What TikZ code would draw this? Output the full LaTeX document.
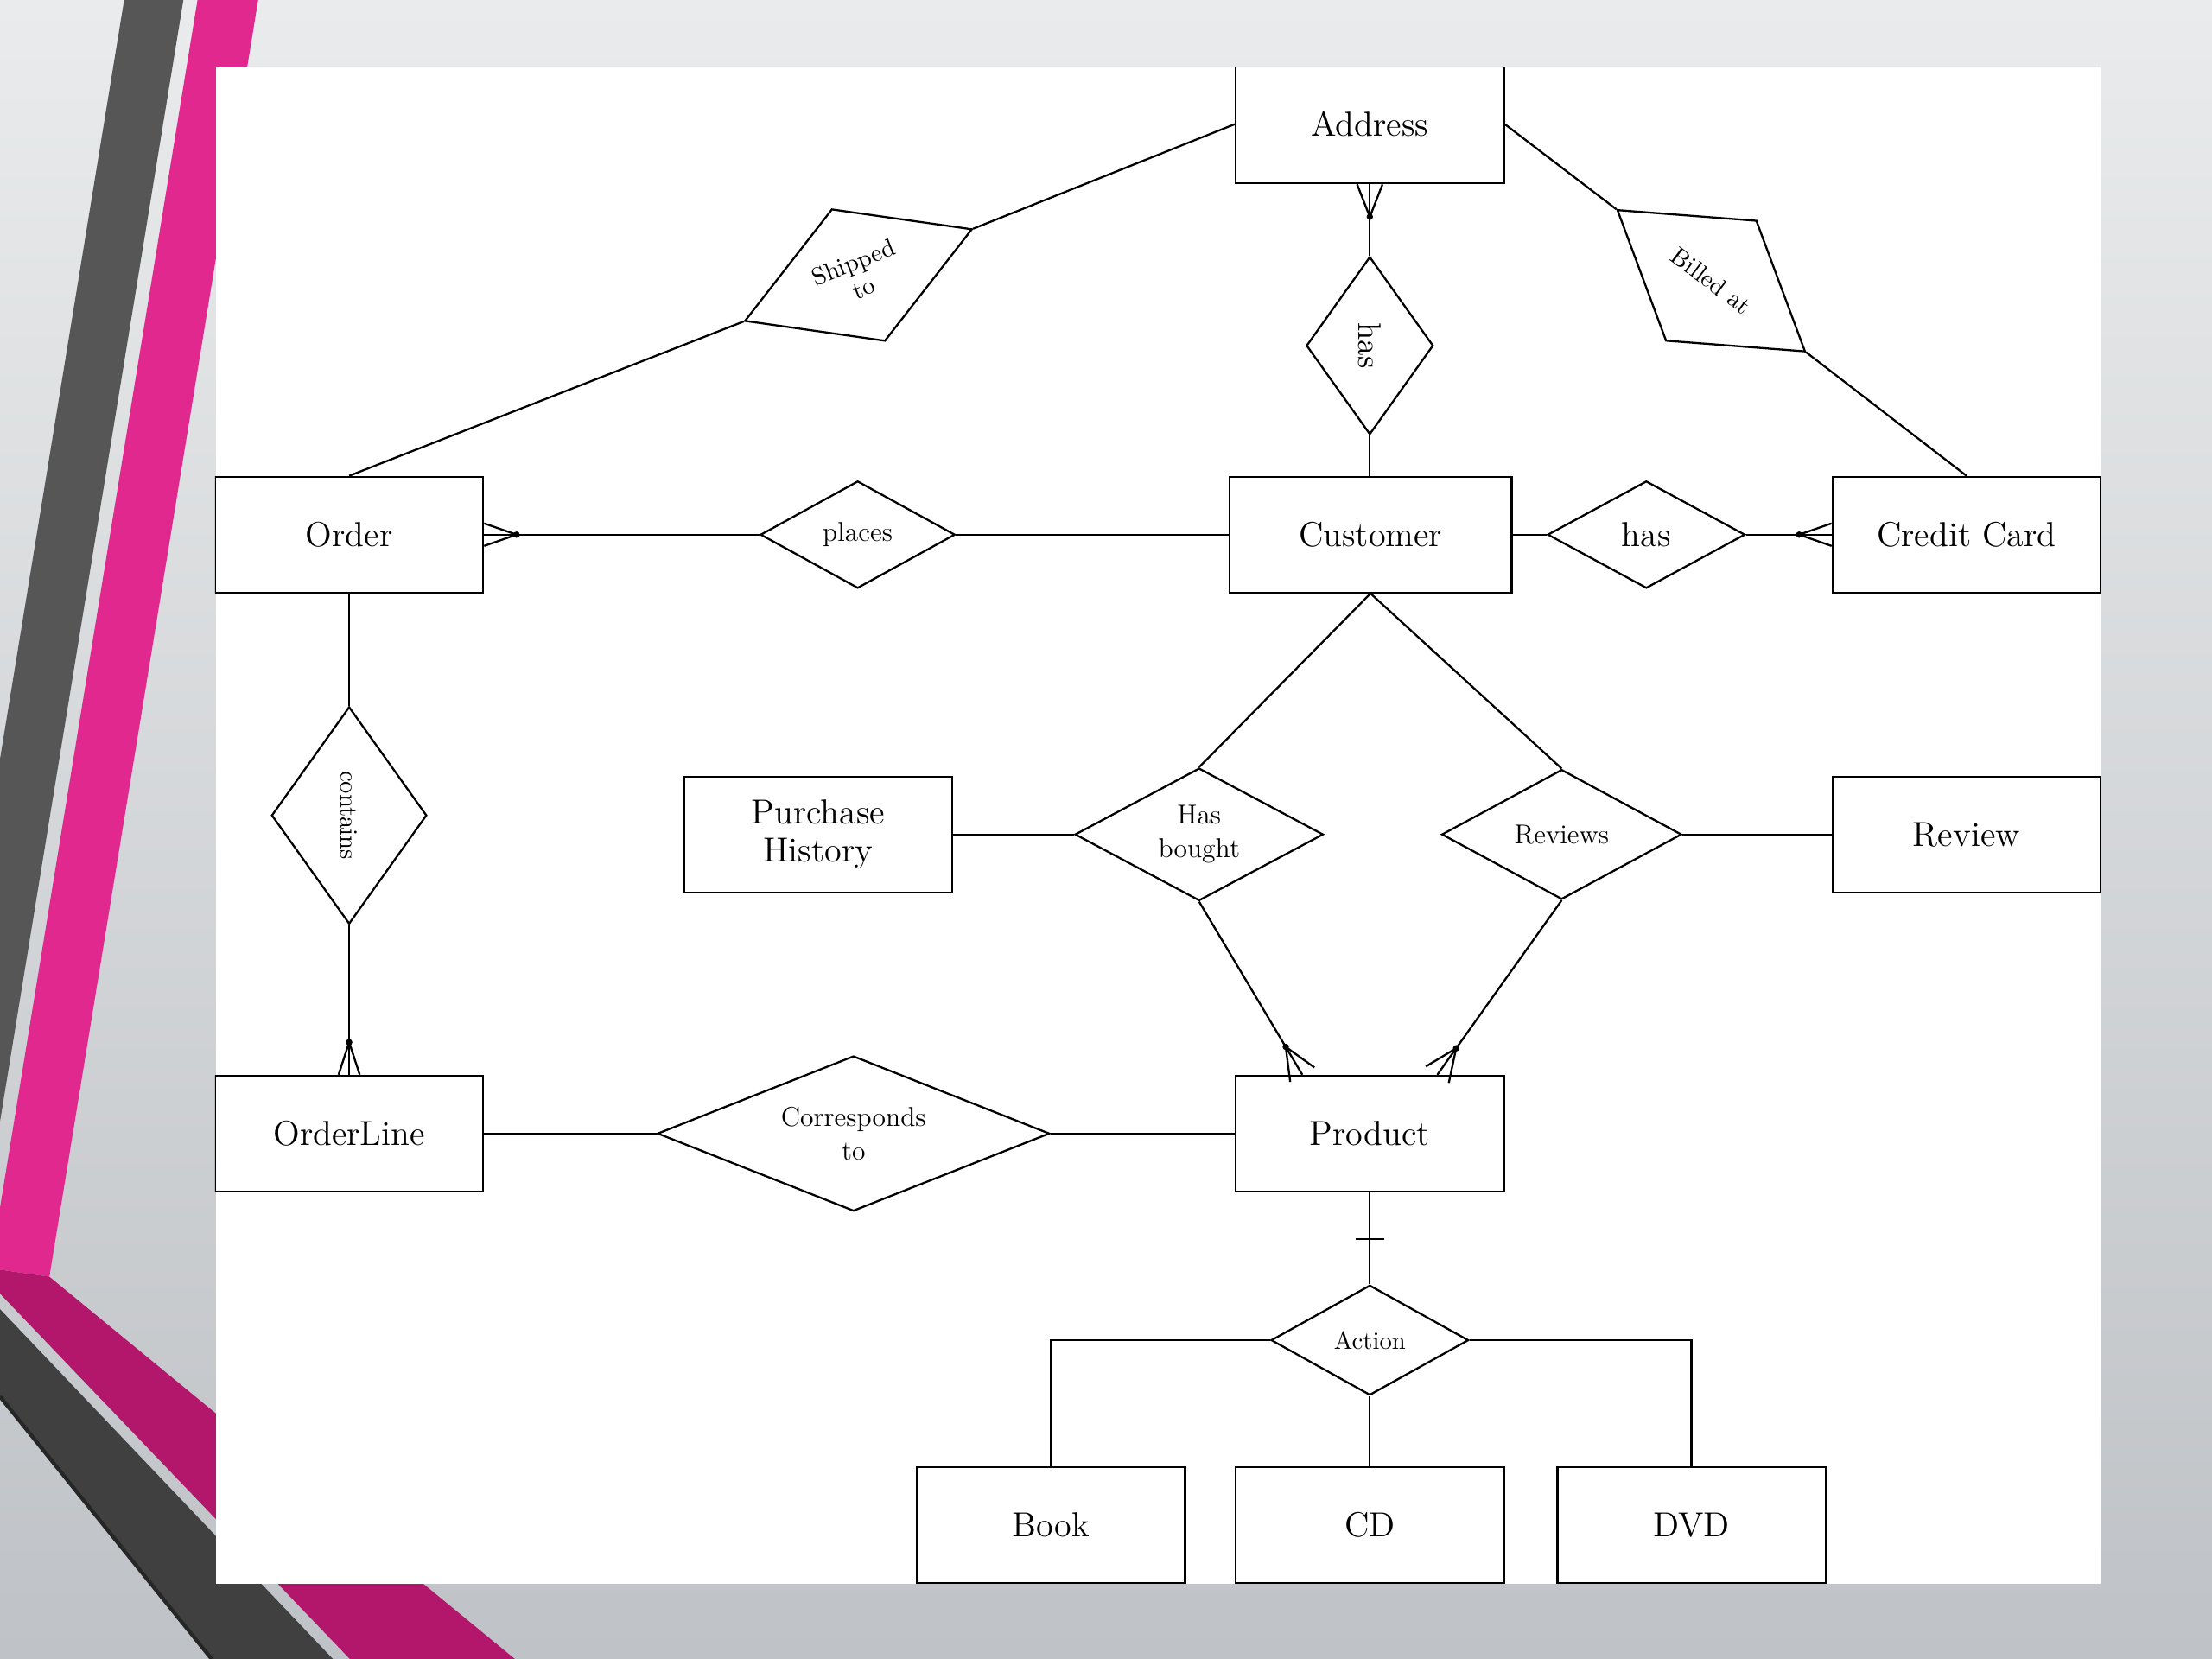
\documentclass[tikz,border=0pt]{standalone}
\usepackage{tikz}
\usetikzlibrary{shapes,shapes.geometric}
\usetikzlibrary{calc}
\usetikzlibrary{positioning}

\definecolor{slidetop}{HTML}{E9EBEC}
\definecolor{slidebot}{HTML}{BFC2C6}
\definecolor{stripegrey}{HTML}{565656}
\definecolor{stripepink}{HTML}{E1288E}
\definecolor{stripemag}{HTML}{B3176C}
\definecolor{banddark}{HTML}{404040}

\newcommand{\crowsfoot}[3]{%
\draw (#1) -- (#2);
\fill ($(#2)!0.46cm!(#1)$) circle (1.3pt);
\draw ($(#2)!0.46cm!(#1)$) -- ($(#2)!#3!90:(#1)$);
\draw ($(#2)!0.46cm!(#1)$) -- ($(#2)!#3!-90:(#1)$);}

\begin{document}
\begin{tikzpicture}[x=0.02cm,y=-0.02cm,thick]
\tikzset{entity/.style={rectangle,draw,minimum width=3.8cm,minimum height=1.64cm,align=center,font=\fontsize{14}{15.5}\selectfont},
relation/.style={diamond,draw,inner sep=0pt,aspect=2,align=center,font=\fontsize{11}{13.5}\selectfont}}
\useasboundingbox (0,0) rectangle (1568,1176);
\shade[top color=slidetop,bottom color=slidebot] (0,0) rectangle (1568,1176);
\fill[stripegrey] (88,0) -- (130,0) -- (0,795) -- (0,538) -- cycle;
\fill[stripepink] (140,0) -- (183,0) -- (35,905) -- (0,900) -- (0,856) -- cycle;
\fill[stripemag] (0,900) -- (35,905) -- (365,1176) -- (248,1176) -- (0,917) -- cycle;
\fill[banddark] (0,928) -- (236,1176) -- (150,1176) -- (0,990) -- cycle;
\draw[line width=1.5pt,black!85] (0,990) -- (150,1176);
\fill[white] (153,47) rectangle (1489,1123);
\begin{scope}
\clip (152.5,47.5) rectangle (1489.5,1123);
\node[entity,minimum height=1.68cm](address) at (971,88){Address};
\node[entity](order) at (247.5,379){Order};
\node[entity,minimum width=4cm](customer) at (971.5,379){Customer};
\node[entity](credit) at (1394,379){Credit Card};
\node[entity](history) at (580,591.5){Purchase\\History};
\node[entity](review) at (1394,591.5){Review};
\node[entity](orderline) at (247.5,803.5){OrderLine};
\node[entity](product) at (971,803.5){Product};
\node[entity](book) at (745,1081){Book};
\node[entity](cd) at (971,1081){CD};
\node[entity](dvd) at (1199,1081){DVD};
\node[relation,rotate=22,minimum width=3.48cm,minimum height=2.02cm,font=\fontsize{10}{11}\selectfont](shipped) at (608.5,195){Shipped\\to};
\node[relation,rotate=-90,minimum width=2.52cm,minimum height=1.8cm,font=\fontsize{13}{15}\selectfont](hasaddr) at (971,245){has};
\node[relation,rotate=-37,minimum width=3.34cm,minimum height=2.14cm,font=\fontsize{10}{12}\selectfont](billed) at (1213,199){Billed at};
\node[relation,minimum width=2.76cm,minimum height=1.52cm](places) at (608,379){places};
\node[relation,minimum width=2.8cm,minimum height=1.52cm,font=\fontsize{14}{16}\selectfont](hascard) at (1167,379){has};
\node[relation,rotate=-90,minimum width=3.08cm,minimum height=2.2cm,font=\fontsize{10}{12}\selectfont](contains) at (247.5,578){contains};
\node[relation,minimum width=3.52cm,minimum height=1.88cm](bought) at (850,591.5){Has\\bought};
\node[relation,minimum width=3.4cm,minimum height=1.84cm](reviews) at (1107,591.5){Reviews};
\node[relation,minimum width=5.56cm,minimum height=2.2cm](corr) at (605,803.5){Corresponds\\to};
\node[relation,minimum width=2.8cm,minimum height=1.56cm,font=\fontsize{10}{12}\selectfont](action) at (971,950){Action};
\draw (address.west) -- (shipped.east);
\draw (shipped.west) -- (order.north);
\draw (address.east) -- (billed.west);
\draw (billed.east) -- (credit.north);
\crowsfoot{hasaddr.west}{address.south}{0.18cm}
\draw (hasaddr.east) -- (hasaddr.east |- customer.north);
\crowsfoot{places.west}{order.east}{0.16cm}
\draw (places.east) -- (customer.west);
\draw (customer.east) -- (hascard.west);
\crowsfoot{hascard.east}{credit.west}{0.16cm}
\draw (order.south) -- (contains.west);
\crowsfoot{contains.east}{orderline.north}{0.15cm}
\draw (orderline) -- (corr) -- (product);
\draw (customer.south) -- (bought.north);
\draw (customer.south) -- (reviews.north);
\draw (history) -- (bought);
\draw (reviews) -- (review);
\coordinate (pleft) at ($(product.north west)!0.25!(product.north east)$);
\coordinate (pright) at ($(product.north west)!0.75!(product.north east)$);
\crowsfoot{bought.south}{pleft}{0.2cm}
\crowsfoot{reviews.south}{pright}{0.2cm}
\draw (product) -- (action);
\draw ($(product.south)!0.66cm!(action.north)$) ++(-0.2cm,0pt) -- ++(0.4cm,0pt);
\draw (action.west) -| (book.north);
\draw (action.east) -| (dvd.north);
\draw (action) -- (cd);
\end{scope}
\end{tikzpicture}
\end{document}
